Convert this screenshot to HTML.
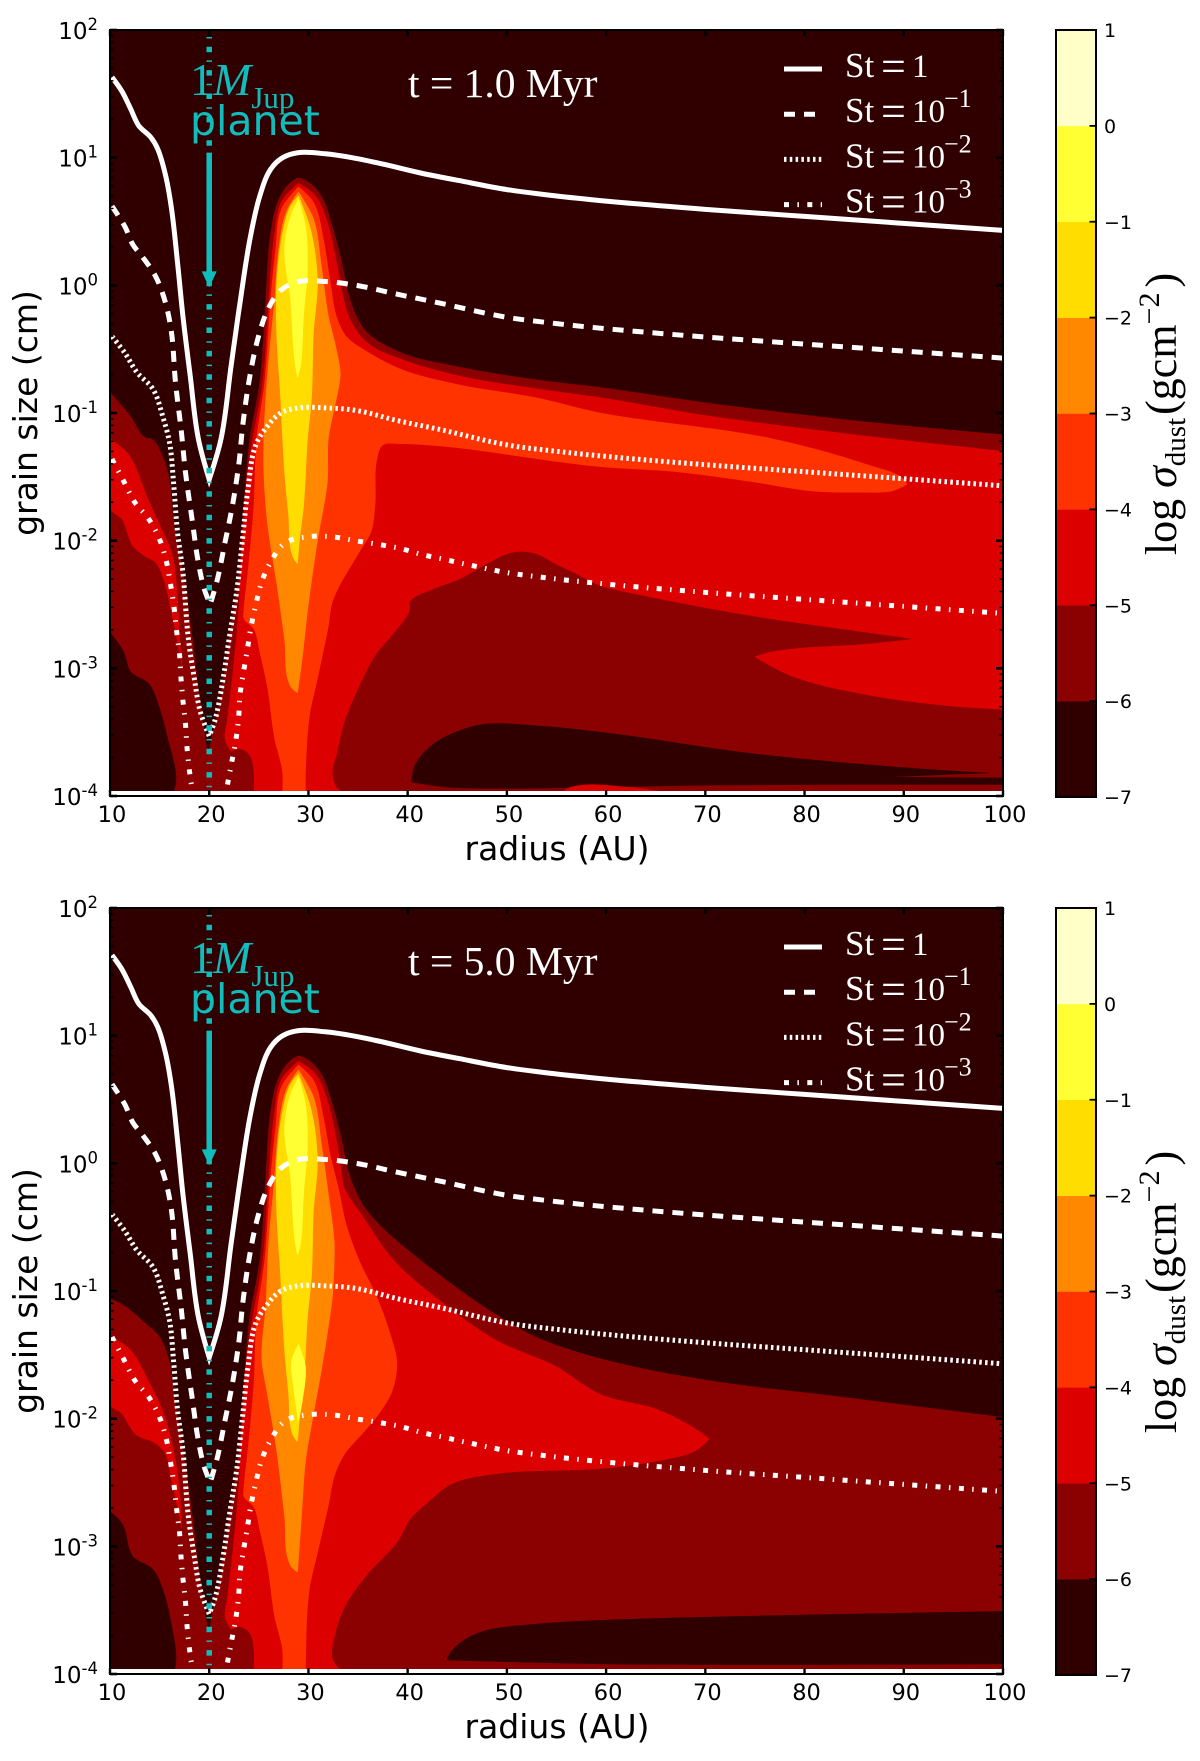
<!DOCTYPE html>
<html lang="en">
<head>
<meta charset="utf-8">
<title>Dust surface density vs radius and grain size</title>
<style>
html,body{margin:0;padding:0;background:#fff}
svg{display:block}
.sans{font-family:"DejaVu Sans","Liberation Sans",sans-serif}
.serif{font-family:"Liberation Serif","DejaVu Serif",serif}
</style>
</head>
<body>
<svg id="chart" xmlns="http://www.w3.org/2000/svg" width="1200" height="1761" viewBox="0 0 1200 1761">
<defs>
<clipPath id="clip-top"><rect x="110" y="30" width="893" height="762"/></clipPath>
<clipPath id="clip-bottom"><rect x="110" y="908" width="893" height="763"/></clipPath>
</defs>
<g id="panel-top"></g>
<g id="panel-bottom"></g>
</svg>
<script>
/* ---------- axis and legend values ---------- */
const xTicks = [10, 20, 30, 40, 50, 60, 70, 80, 90, 100];
const yTickExponents = [2, 1, 0, -1, -2, -3, -4];
const minorMultipliers = [2, 3, 4, 5, 6, 7, 8, 9];
const colorbarTicks = [1, 0, -1, -2, -3, -4, -5, -6, -7];
const bandColors = ['#300000', '#8b0000', '#dd0000', '#ff3300', '#ff8800', '#ffdd00', '#ffff33', '#ffffc8'];
const panelTimes = ['t = 1.0 Myr', 't = 5.0 Myr'];
const planetRadius = 20;
const planetArrowTop = 1.0;
const planetArrowTip = 0;

/* ---------- Stokes-number curves: [radius AU, log10 grain size cm] ---------- */
const stokes1 = [[10.2,1.63],[11.2,1.52],[12.1,1.38],[12.9,1.25],[14.1,1.16],[14.8,1.07],[15.6,.86],[16.2,.6],[16.8,.18],[17.35,-.24],[18.1,-.72],[18.9,-1.2],[20,-1.52],[21.2,-1.2],[22.2,-.63],[23.15,-.11],[24.1,.36],[25.1,.7],[26.2,.91],[27.4,1],[29,1.04],[31.7,1.03],[34.4,1],[37.5,.95],[41.3,.88],[45.2,.82],[50,.75],[55,.7],[60,.66],[70,.595],[80,.54],[90,.485],[100,.43]];
const stokes01 = [[10.2,.62],[11.5,.46],[12.3,.32],[13.3,.22],[14.6,.07],[15.6,-.14],[16.2,-.37],[16.6,-.76],[17.2,-1.15],[17.6,-1.46],[18.3,-1.85],[18.9,-2.17],[19.5,-2.38],[20.1,-2.5],[20.8,-2.31],[21.6,-2.01],[22.4,-1.7],[23,-1.39],[23.4,-1.08],[24.1,-.71],[24.9,-.42],[25.9,-.19],[27.2,-.04],[29,.03],[31.7,.03],[34.8,0],[39,-.07],[43.3,-.14],[50,-.25],[55,-.3],[60,-.34],[70,-.405],[80,-.46],[90,-.515],[100,-.57]];
const stokes001 = [[10.2,-.4],[11.5,-.53],[12.7,-.68],[14.3,-.81],[15.4,-1.05],[16,-1.23],[16.4,-1.54],[16.8,-1.93],[17.35,-2.25],[17.9,-2.77],[18.5,-3.08],[19.1,-3.34],[20,-3.53],[20.6,-3.4],[21.4,-3.08],[22,-2.77],[22.8,-2.38],[23.35,-1.99],[23.9,-1.6],[24.7,-1.25],[25.9,-1.1],[27.2,-1],[29,-.96],[31.7,-.96],[34.8,-.98],[39,-1.06],[43.3,-1.13],[50,-1.25],[55,-1.3],[60,-1.34],[70,-1.405],[80,-1.46],[90,-1.515],[100,-1.57]];
const stokes0001 = [[10.2,-1.36],[11.35,-1.53],[12.5,-1.7],[13.9,-1.83],[15,-1.99],[15.7,-2.17],[16.1,-2.34],[16.45,-2.52],[16.7,-2.7],[17,-2.89],[17.15,-3.07],[17.35,-3.25],[17.6,-3.43],[17.75,-3.61],[18,-3.8],[18.3,-3.96],[18.6,-4.1],[21.5,-4.1],[21.8,-3.93],[22.2,-3.76],[22.65,-3.58],[22.95,-3.4],[23.1,-3.21],[23.45,-3.03],[23.85,-2.85],[24.2,-2.68],[24.7,-2.5],[25.3,-2.32],[26.25,-2.16],[27.6,-2.02],[29.9,-1.97],[32.4,-1.97],[34.7,-2],[37.1,-2.03],[39.2,-2.06],[41.5,-2.11],[43.9,-2.15],[46.2,-2.19],[50,-2.25],[55,-2.3],[60,-2.34],[70,-2.405],[80,-2.46],[90,-2.515],[100,-2.57]];

/* ---------- contour outlines, panel t = 1 Myr ---------- */
const t1AboveMinus6 = [[10,-.84],[12,-1.02],[13.7,-1.2],[14.1,-1.2],[15.4,-1.36],[16,-1.54],[16.4,-1.86],[17.35,-2.25],[18.3,-2.77],[19.1,-3.29],[19.87,-3.68],[20.25,-3.55],[21,-3.29],[22,-2.77],[23,-2.25],[23.5,-1.73],[24.1,-1.2],[25.1,-.76],[25.7,-.11],[26.2,.41],[27,.67],[28,.79],[29,.838],[30.3,.79],[31.5,.67],[32.4,.46],[33.2,.23],[34,-.06],[34.8,-.24],[35.9,-.37],[39.4,-.53],[45.2,-.64],[52.9,-.74],[59.4,-.8],[70,-.92],[85,-1.06],[100,-1.17],[100,-3.97],[10,-3.97]];
const t1BelowMinus6Corner = [[10,-2.72],[11.35,-2.87],[12.1,-3.03],[13.9,-3.12],[14.8,-3.27],[15.8,-3.55],[16.65,-3.87],[16.4,-3.97],[10,-3.97]];
const t1BelowMinus6Lens = [[40.4,-3.89],[40.75,-3.76],[42.5,-3.6],[45.2,-3.49],[47.5,-3.44],[52.9,-3.45],[59.4,-3.5],[74.9,-3.67],[90.3,-3.78],[98.5,-3.82],[93,-3.835],[88.4,-3.85],[92,-3.855],[100,-3.86],[100,-3.91],[70,-3.915],[59.4,-3.93],[49,-3.94],[44,-3.93]];
const t1AboveMinus5Main = [[24.5,-3.97],[24.5,-3.81],[24.1,-3.68],[23.15,-3.63],[22.2,-3.65],[21.6,-3.55],[21.8,-3.42],[22.4,-3.03],[23,-2.51],[23.35,-1.99],[23.9,-1.46],[24.4,-1.2],[25.4,-.76],[26,-.11],[26.6,.41],[27.3,.66],[29,.8],[30.7,.7],[31.9,.49],[32.7,.23],[33.4,-.06],[34.2,-.27],[35.9,-.45],[39.4,-.58],[45.2,-.71],[52.9,-.81],[59.4,-.88],[70,-1.02],[85,-1.17],[100,-1.3],[100,-3.32],[94.2,-3.29],[86.5,-3.21],[78.7,-3.06],[75,-2.91],[76.8,-2.87],[86.5,-2.81],[91.1,-2.77],[86.5,-2.72],[74.9,-2.59],[63.2,-2.42],[59.4,-2.35],[56.8,-2.25],[54.9,-2.18],[52.9,-2.1],[50.6,-2.09],[47.5,-2.2],[45.2,-2.3],[42.5,-2.38],[40.2,-2.48],[40.2,-2.54],[38.6,-2.72],[36.7,-2.9],[34.8,-3.19],[33.6,-3.42],[32.8,-3.68],[32.4,-3.81],[32.8,-3.93],[33.4,-3.97]];
const t1AboveMinus5Left = [[10,-1.2],[11.9,-1.33],[13.8,-1.67],[15,-1.88],[16.2,-2.09],[16.8,-2.46],[17,-2.77],[17.3,-3],[16.2,-2.56],[15.4,-2.3],[14.6,-2.17],[13.5,-2.12],[12.3,-2.04],[11.2,-1.83],[10,-1.75]];
const t1AboveMinus5Strip = [[55.6,-3.97],[56.5,-3.93],[62,-3.93],[66,-3.97]];
const t1AboveMinus4 = [[27.4,-3.97],[27.4,-3.81],[26.6,-3.55],[25.9,-3.16],[25.1,-2.87],[24.5,-2.69],[23.5,-2.61],[23.5,-2.55],[23.9,-2.25],[24.5,-1.73],[24.8,-1.2],[25.6,-.76],[26.2,-.11],[26.7,.28],[27.3,.6],[29,.77],[30.5,.65],[31.5,.36],[32.2,.02],[32.8,-.24],[33.8,-.4],[35.9,-.52],[39.4,-.66],[45.2,-.78],[52.9,-.88],[59.4,-1],[76.6,-1.2],[86.5,-1.41],[90,-1.52],[90.3,-1.56],[88.8,-1.61],[85.7,-1.62],[80.7,-1.61],[74.9,-1.54],[67.1,-1.46],[59.4,-1.42],[39,-1.24],[37.5,-1.25],[36.9,-1.36],[36.7,-1.73],[36.3,-1.93],[35.1,-2.09],[32.4,-2.48],[32,-2.67],[30.9,-3.08],[30.1,-3.37],[29.7,-3.81],[29.7,-3.97]];
const t1AboveMinus3 = [[29,.73],[30.5,.52],[31.3,.15],[32,-.24],[32.8,-.5],[33.2,-.7],[32.8,-.89],[32,-1.2],[31.9,-1.54],[30.9,-2],[29.9,-2.55],[29.4,-2.9],[28.9,-3.19],[28.2,-3.14],[27.6,-2.77],[26.8,-2.33],[25.9,-1.88],[25.5,-1.46],[25.5,-1.2],[25.95,-.63],[26.6,-.11],[27,.28],[27.8,.58]];

/* ---------- contour outlines, panel t = 5 Myr ---------- */
const t5AboveMinus6 = [[10,-1.06],[11.5,-1.12],[13.5,-1.25],[15,-1.36],[16,-1.56],[16.4,-1.79],[17.35,-2.25],[18.3,-2.77],[19.1,-3.29],[20,-3.71],[20.25,-3.55],[21,-3.29],[22,-2.77],[23,-2.25],[23.5,-1.73],[24.1,-1.2],[25.1,-.76],[25.7,-.11],[26.2,.41],[27,.67],[28,.79],[29,.838],[30.3,.79],[31.5,.67],[32.4,.46],[33.2,.23],[34,-.06],[34.6,-.19],[35.5,-.33],[37.5,-.51],[41.3,-.76],[45.2,-.99],[49,-1.19],[52.9,-1.36],[59.4,-1.53],[71,-1.71],[82.6,-1.82],[100,-1.99],[100,-3.97],[10,-3.97]];
const t5BelowMinus6Corner = [[10,-2.73],[11.2,-2.82],[12.3,-3.08],[14.3,-3.18],[15.4,-3.36],[16.2,-3.62],[16.65,-3.88],[16.5,-3.97],[10,-3.97]];
const t5BelowMinus6Lens = [[44,-3.88],[44.8,-3.79],[47.1,-3.68],[52.9,-3.61],[59.4,-3.58],[78.7,-3.54],[100,-3.51],[100,-3.92],[59.4,-3.92],[44,-3.89]];
const t5AboveMinus5Main = [[24.5,-3.97],[24.5,-3.81],[24.1,-3.68],[23.15,-3.63],[22.2,-3.65],[21.6,-3.55],[21.8,-3.42],[22.4,-3.03],[23,-2.51],[23.35,-1.99],[23.9,-1.46],[24.4,-1.2],[25.4,-.76],[26,-.11],[26.6,.41],[27.3,.66],[29,.8],[30.7,.7],[31.9,.49],[32.7,.23],[33.3,-.06],[33.6,-.19],[35.5,-.42],[38.6,-.76],[43.3,-1.08],[49,-1.39],[54.9,-1.59],[59.4,-1.81],[65.2,-1.93],[69,-2.08],[70.4,-2.16],[69,-2.25],[65.2,-2.33],[59.4,-2.39],[49,-2.43],[44.4,-2.51],[42.1,-2.65],[40.2,-2.79],[39,-2.96],[35.9,-3.22],[33.6,-3.48],[32.6,-3.71],[32.4,-3.88],[33.2,-3.97]];
const t5AboveMinus5Left = [[10,-1.36],[11.9,-1.45],[13.9,-1.71],[15.4,-1.96],[16.4,-2.25],[17,-2.56],[17.2,-2.85],[16.2,-2.48],[15.4,-2.25],[14.3,-2.18],[12.7,-2.13],[11.9,-2.05],[11.2,-1.96],[10,-1.89]];
const t5AboveMinus4 = [[27.4,-3.97],[27.4,-3.81],[26.6,-3.55],[25.9,-3.16],[25.1,-2.87],[24.5,-2.69],[23.5,-2.61],[23.5,-2.55],[23.9,-2.25],[24.5,-1.73],[24.8,-1.2],[25.6,-.76],[26.2,-.11],[26.7,.28],[27.3,.6],[29,.77],[30.5,.65],[31.5,.36],[32.2,.06],[33,-.19],[33.8,-.48],[35.1,-.76],[36.9,-1.05],[38.2,-1.33],[38.9,-1.56],[38.4,-1.79],[37.1,-1.96],[35.5,-2.11],[33.6,-2.28],[32.6,-2.45],[32,-2.68],[30.9,-3.05],[30.1,-3.33],[29.7,-3.91],[29.7,-3.97]];
const t5AboveMinus3 = [[29,.73],[30.5,.52],[31.3,.15],[32,-.24],[32.6,-.62],[32.6,-.76],[32.4,-1.05],[32,-1.28],[31.3,-1.62],[30.3,-2.05],[29.7,-2.33],[29.3,-2.76],[28.9,-3.2],[28.2,-3.15],[27.6,-2.76],[26.8,-2.25],[25.9,-1.82],[25.3,-1.53],[25.7,-1.13],[26,-.62],[26.6,-.11],[27,.28],[27.8,.58]];
const t5AboveMinus1Lower = [[29,-1.42],[29.7,-1.6],[29.4,-1.85],[29,-2.02],[28.5,-1.75],[28.3,-1.55]];

/* ---------- contours shared by both panels ---------- */
const peakAboveMinus2 = [[29,.7],[30.3,.41],[30.9,.02],[30.5,-.37],[30.3,-.89],[29.9,-1.2],[29.5,-1.73],[29.1,-1.99],[28.9,-2.18],[28.4,-2.12],[28,-1.8],[27.6,-1.46],[27.4,-1.2],[27.2,-.89],[26.8,-.37],[26.8,.02],[27.4,.41],[28.2,.62]];
const peakAboveMinus1 = [[29,.67],[29.7,.46],[29.9,.15],[29.5,-.24],[29.2,-.63],[28.9,-.72],[28.6,-.58],[28.2,-.11],[27.6,.28],[28.2,.54]];

/* ---------- panel definitions ---------- */
const panelLayers = [
  [
    ['contour-above-minus-6', t1AboveMinus6, 1],
    ['contour-below-minus-6-corner', t1BelowMinus6Corner, 0],
    ['contour-below-minus-6-lens', t1BelowMinus6Lens, 0],
    ['contour-above-minus-5', t1AboveMinus5Main, 2],
    ['contour-above-minus-5-left', t1AboveMinus5Left, 2],
    ['contour-above-minus-5-strip', t1AboveMinus5Strip, 2],
    ['contour-above-minus-4', t1AboveMinus4, 3],
    ['contour-above-minus-3', t1AboveMinus3, 4],
    ['contour-above-minus-2', peakAboveMinus2, 5],
    ['contour-above-minus-1', peakAboveMinus1, 6]
  ],
  [
    ['contour-above-minus-6', t5AboveMinus6, 1],
    ['contour-below-minus-6-corner', t5BelowMinus6Corner, 0],
    ['contour-below-minus-6-lens', t5BelowMinus6Lens, 0],
    ['contour-above-minus-5', t5AboveMinus5Main, 2],
    ['contour-above-minus-5-left', t5AboveMinus5Left, 2],
    ['contour-above-minus-4', t5AboveMinus4, 3],
    ['contour-above-minus-3', t5AboveMinus3, 4],
    ['contour-above-minus-2', peakAboveMinus2, 5],
    ['contour-above-minus-1', peakAboveMinus1, 6],
    ['contour-above-minus-1-lower', t5AboveMinus1Lower, 6]
  ]
];
const stokesSeries = [
  ['st-1-line', stokes1, 'none', '1', ''],
  ['st-0.1-line', stokes01, '11 9', '10', '−1'],
  ['st-0.01-line', stokes001, '2.5 3.3', '10', '−2'],
  ['st-0.001-line', stokes0001, '5 8.4 1.5 8.4', '10', '−3']
];

/* ---------- axes ---------- */
const NS = 'http://www.w3.org/2000/svg';
const plotLeft = 110, plotRight = 1003, plotHeight = 766;
const barLeft = 1056, barRight = 1096;
function xScale(v) { return plotLeft + (v - 10) * (plotRight - plotLeft) / 90; }
function yScale(v, top) { return top + (2 - v) * plotHeight / 6; }
function barScale(v, top) { return top + (1 - v) * (plotHeight + 1) / 8; }

function make(parent, tag, attrs, text) {
  const el = document.createElementNS(NS, tag);
  for (const k in attrs) el.setAttribute(k, attrs[k]);
  if (text !== undefined) el.textContent = text;
  parent.appendChild(el);
  return el;
}
/* Curve through the points; sharp turns stay as corners. */
function curvePath(points, top, closed) {
  const pts = points.map(p => [xScale(p[0]), yScale(p[1], top)]);
  const n = pts.length;
  const tangent = i => {
    if (!closed && (i === 0 || i === n - 1)) return null;
    const a = pts[(i - 1 + n) % n], b = pts[i], c = pts[(i + 1) % n];
    const ux = b[0] - a[0], uy = b[1] - a[1], vx = c[0] - b[0], vy = c[1] - b[1];
    const lu = Math.hypot(ux, uy) || 1, lv = Math.hypot(vx, vy) || 1;
    if ((ux * vx + uy * vy) / (lu * lv) < 0.2) return null;
    const tx = ux / lu + vx / lv, ty = uy / lu + vy / lv, l = Math.hypot(tx, ty) || 1;
    return [tx / l, ty / l];
  };
  let d = 'M' + pts[0][0].toFixed(1) + ' ' + pts[0][1].toFixed(1);
  const last = closed ? n : n - 1;
  for (let i = 0; i < last; i++) {
    const b = pts[i], c = pts[(i + 1) % n];
    const len = Math.hypot(c[0] - b[0], c[1] - b[1]) / 3;
    const tb = tangent(i), tc = tangent((i + 1) % n);
    const c1 = tb ? [b[0] + tb[0] * len, b[1] + tb[1] * len] : b;
    const c2 = tc ? [c[0] - tc[0] * len, c[1] - tc[1] * len] : c;
    d += 'C' + c1[0].toFixed(1) + ' ' + c1[1].toFixed(1) + ' ' + c2[0].toFixed(1) + ' ' + c2[1].toFixed(1) + ' ' + c[0].toFixed(1) + ' ' + c[1].toFixed(1);
  }
  return d + (closed ? 'Z' : '');
}

function drawPanel(index, groupId, clipId, top) {
  const g = document.getElementById(groupId);
  const bottom = top + plotHeight;

  /* field background and contour bands */
  const field = make(g, 'g', { 'clip-path': 'url(#' + clipId + ')' });
  
  
  const bg = make(field, 'rect', { x: plotLeft, y: top, width: plotRight - plotLeft, height: plotHeight, fill: bandColors[0] });
  
  
  panelLayers[index].forEach(layer => {
    const poly = make(field, 'path', { d: curvePath(layer[1], top, true), fill: bandColors[layer[2]], stroke: bandColors[layer[2]], 'stroke-width': 0.6, 'stroke-linejoin': 'round' });
    
    
  });

  /* Stokes curves */
  stokesSeries.forEach(series => {
    const line = make(field, 'path', { d: curvePath(series[1], top, false), fill: 'none', stroke: '#fff', 'stroke-width': 5, 'stroke-dasharray': series[2], 'stroke-linejoin': 'miter', 'stroke-miterlimit': 10 });
    
    
  });

  /* planet marker */
  const px = xScale(planetRadius);
  const dotted = make(g, 'line', { x1: px, x2: px, y1: top + 7, y2: bottom - 3, stroke: '#10bcbc', 'stroke-width': 5.5, 'stroke-dasharray': '5.5 8.2 1.5 8.2', 'stroke-dashoffset': 13.7 });
  
  
  const shaft = make(g, 'line', { x1: px, x2: px, y1: yScale(planetArrowTop, top) - 5, y2: yScale(planetArrowTip, top) - 10, stroke: '#10bcbc', 'stroke-width': 5.5 });
  
  
  const head = make(g, 'path', { d: 'M' + (px - 7.5) + ' ' + (yScale(planetArrowTip, top) - 14) + 'L' + (px + 7.5) + ' ' + (yScale(planetArrowTip, top) - 14) + 'L' + px + ' ' + (yScale(planetArrowTip, top) + 2) + 'Z', fill: '#10bcbc' });
  
  

  /* planet annotation */
  const mass = make(g, 'text', { x: 190, y: top + 65, fill: '#10bcbc', class: 'serif', 'font-size': 46 });
  
  
  make(mass, 'tspan', {}, '1');
  make(mass, 'tspan', { 'font-style': 'italic' }, 'M');
  make(mass, 'tspan', { 'font-size': 31, dy: 13 }, 'Jup');
  const planet = make(g, 'text', { x: 190, y: top + 105, fill: '#10bcbc', class: 'sans', 'font-size': 41 }, 'planet');
  
  
  const time = make(g, 'text', { x: 408, y: top + 67, fill: '#fff', class: 'serif', 'font-size': 41.5 }, panelTimes[index]);
  
  

  /* legend */
  const legend = make(g, 'g', {});
  
  
  stokesSeries.forEach((series, i) => {
    const rowY = top + 39 + i * 45.2;
    const entry = make(legend, 'g', {});
    
    
    const sample = make(entry, 'line', { x1: 784, x2: 822, y1: rowY, y2: rowY, stroke: '#fff', 'stroke-width': 5, 'stroke-dasharray': series[2] });
    
    
    const label = make(entry, 'text', { y: rowY + 8, fill: '#fff', class: 'serif', 'font-size': 33 });
    
    
    make(label, 'tspan', { x: 845, 'font-size': 35 }, 'St');
    make(label, 'tspan', { x: 881, dy: 4, 'font-size': 44 }, '=');
    make(label, 'tspan', { x: 912, dy: -4 }, series[3]);
    if (series[4]) make(label, 'tspan', { x: 944, dy: -15, 'font-size': 26 }, series[4]);
  });

  /* frame and bottom white gap */
  const gap = make(g, 'rect', { x: plotLeft, y: bottom - 5, width: plotRight - plotLeft, height: 5, fill: '#fff' });
  
  
  const frame = make(g, 'rect', { x: plotLeft, y: top, width: plotRight - plotLeft, height: plotHeight, fill: 'none', stroke: '#000', 'stroke-width': 2 });
  
  

  /* x ticks */
  xTicks.forEach(v => {
    const tx = xScale(v);
    const t1 = make(g, 'line', { x1: tx, x2: tx, y1: bottom, y2: bottom - 6, stroke: '#000', 'stroke-width': 2.4 });
    
    
    const t2 = make(g, 'line', { x1: tx, x2: tx, y1: top, y2: top + 6, stroke: '#000', 'stroke-width': 2.4 });
    
    
    const lab = make(g, 'text', { x: tx + 2, y: bottom + 26, 'text-anchor': 'middle', class: 'sans', 'font-size': 22.5, fill: '#000' }, String(v));
    
    
  });

  /* y ticks */
  yTickExponents.forEach(e => {
    const ty = yScale(e, top);
    [[plotLeft, 7], [plotRight, -7]].forEach(side => {
      const t = make(g, 'line', { x1: side[0], x2: side[0] + side[1], y1: ty, y2: ty, stroke: '#000', 'stroke-width': 2.6 });
      
      
    });
    if (e > -4) {
      minorMultipliers.forEach(m => {
        const my = yScale(e - 1 + Math.log10(m), top);
        [[plotLeft, 3.5], [plotRight, -3.5]].forEach(side => {
          const t = make(g, 'line', { x1: side[0], x2: side[0] + side[1], y1: my, y2: my, stroke: '#000', 'stroke-width': 1.4 });
          
          
        });
      });
    }
    const lab = make(g, 'text', { x: 98, y: ty + 9, 'text-anchor': 'end', class: 'sans', 'font-size': 23, fill: '#000' });
    
    
    make(lab, 'tspan', {}, '10');
    make(lab, 'tspan', { dy: -9, 'font-size': 16.5 }, String(e));
  });

  /* axis titles */
  const xTitle = make(g, 'text', { x: 557, y: bottom + 64, 'text-anchor': 'middle', class: 'sans', 'font-size': 33, fill: '#000' }, 'radius (AU)');
  
  
  const cy = top + plotHeight / 2;
  const yTitle = make(g, 'text', { x: 0, y: 0, transform: 'translate(37 ' + cy + ') rotate(-90)', 'text-anchor': 'middle', class: 'sans', 'font-size': 33, fill: '#000' }, 'grain size (cm)');
  
  

  /* colorbar */
  const bar = make(g, 'g', {});
  
  
  bandColors.forEach((c, i) => {
    const upper = colorbarTicks[colorbarTicks.length - 2 - i];
    const y1 = barScale(upper, top);
    const y2 = barScale(upper - 1, top);
    const seg = make(bar, 'rect', { x: barLeft, y: y1, width: barRight - barLeft, height: y2 - y1 + 0.3, fill: c });
    
    
  });
  const barFrame = make(bar, 'rect', { x: barLeft, y: top, width: barRight - barLeft, height: plotHeight + 1, fill: 'none', stroke: '#000', 'stroke-width': 2 });
  
  
  colorbarTicks.forEach(v => {
    const ty = barScale(v, top);
    const tick = make(bar, 'line', { x1: barRight, x2: barRight - 6.5, y1: ty, y2: ty, stroke: '#000', 'stroke-width': 1.8 });
    
    
    const lab = make(bar, 'text', { x: 1104, y: ty + 7, class: 'sans', 'font-size': 19, fill: '#000' }, String(v).replace('-', '−'));
    
    
  });
  const barTitle = make(bar, 'text', { x: 0, y: 0, transform: 'translate(1176 ' + (top + 384) + ') rotate(-90)', 'text-anchor': 'middle', class: 'serif', 'font-size': 44, fill: '#000' });
  
  
  make(barTitle, 'tspan', {}, 'log ');
  make(barTitle, 'tspan', { 'font-style': 'italic' }, 'σ');
  make(barTitle, 'tspan', { 'font-size': 29, dy: 9 }, 'dust');
  make(barTitle, 'tspan', { dx: 3, dy: -9 }, '(gcm');
  make(barTitle, 'tspan', { 'font-size': 30, dy: -17 }, '−2');
  make(barTitle, 'tspan', { dx: 5, dy: 17 }, ')');
}

drawPanel(0, 'panel-top', 'clip-top', 30);
drawPanel(1, 'panel-bottom', 'clip-bottom', 908);
</script>
</body>
</html>
